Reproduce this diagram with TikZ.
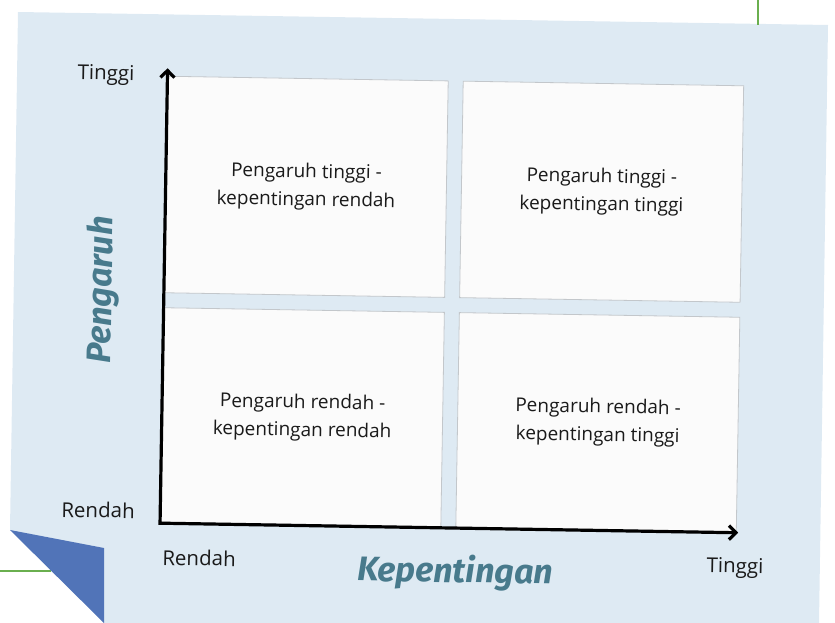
\documentclass[tikz,border=0pt]{standalone}
\usepackage{fontspec}
\setmainfont{Open Sans}
\newfontfamily\titlefont{Fira Sans}
\usetikzlibrary{arrows.meta}
\definecolor{bgblue}{HTML}{DEEAF3}
\definecolor{foldblue}{HTML}{5174B8}
\definecolor{linegreen}{HTML}{6AAF4F}
\definecolor{boxfill}{HTML}{FBFBFB}
\definecolor{boxedge}{HTML}{C3C7CB}
\definecolor{titleteal}{HTML}{487A8C}
\definecolor{textdark}{HTML}{1A1A1A}
\tikzset{
  quadbox/.style={draw=boxedge, line width=0.8pt, fill=boxfill, inner sep=0pt,
    minimum width=280.5pt, align=center, text=textdark,
    font=\fontsize{19}{28}\selectfont},
  axisline/.style={line width=3.2pt, black, line join=miter},
  ticklabel/.style={text=textdark, font=\fontsize{20.5}{24}\selectfont, inner sep=0pt},
  axistitle/.style={text=titleteal, font=\titlefont\bfseries\itshape\fontsize{34}{40}\selectfont, inner sep=0pt},
  greenline/.style={linegreen, line width=2pt}
}
\begin{document}
\begin{tikzpicture}[x=1pt,y=-1pt]
\useasboundingbox (0,0) rectangle (835,623);
% background sheet with folded corner
\fill[bgblue] (18,12) -- (828,25) -- (819,623) -- (104,623) -- (10,530) -- cycle;
\draw[greenline] (758,0) -- (758,25);
\draw[greenline] (0,571) -- (51,571);
\fill[foldblue] (10,530) -- (104,548) -- (104,623) -- cycle;
\begin{scope}[rotate around={-0.95:(452,305)}, transform shape]
  \node[quadbox, minimum height=216.5pt] (tl) at (304.25,189.25)
    {Pengaruh tinggi -\\kepentingan rendah};
  \node[quadbox, minimum height=216.5pt] (tr) at (599.75,189.25)
    {Pengaruh tinggi -\\kepentingan tinggi};
  \node[quadbox, minimum height=214.5pt] (bl) at (304.25,419.75)
    {Pengaruh rendah -\\kepentingan rendah};
  \node[quadbox, minimum height=214.5pt] (br) at (599.75,419.75)
    {Pengaruh rendah -\\kepentingan tinggi};
  \coordinate (origin) at (163.7,528);
  \coordinate (ytop) at (163.7,73);
  \coordinate (xend) at (742,528);
  \draw[axisline, {Straight Barb[length=7pt,width=14pt]}-{Straight Barb[length=7pt,width=14pt]}]
    (ytop) -- (origin) -- (xend);
  \node[ticklabel] (ytoplabel) at (102.3,80.7) {Tinggi};
  \node[ticklabel] (ylowlabel) at (101.5,515.8) {Rendah};
  \node[ticklabel] (xlowlabel) at (203.3,562.2) {Rendah};
  \node[ticklabel] (xtoplabel) at (739.4,563.3) {Tinggi};
  \node[axistitle] (xtitle) at (459.5,572.5) {Kepentingan};
  \node[axistitle, rotate=90] (ytitle) at (102.5,296) {Pengaruh};
\end{scope}
\end{tikzpicture}
\end{document}
